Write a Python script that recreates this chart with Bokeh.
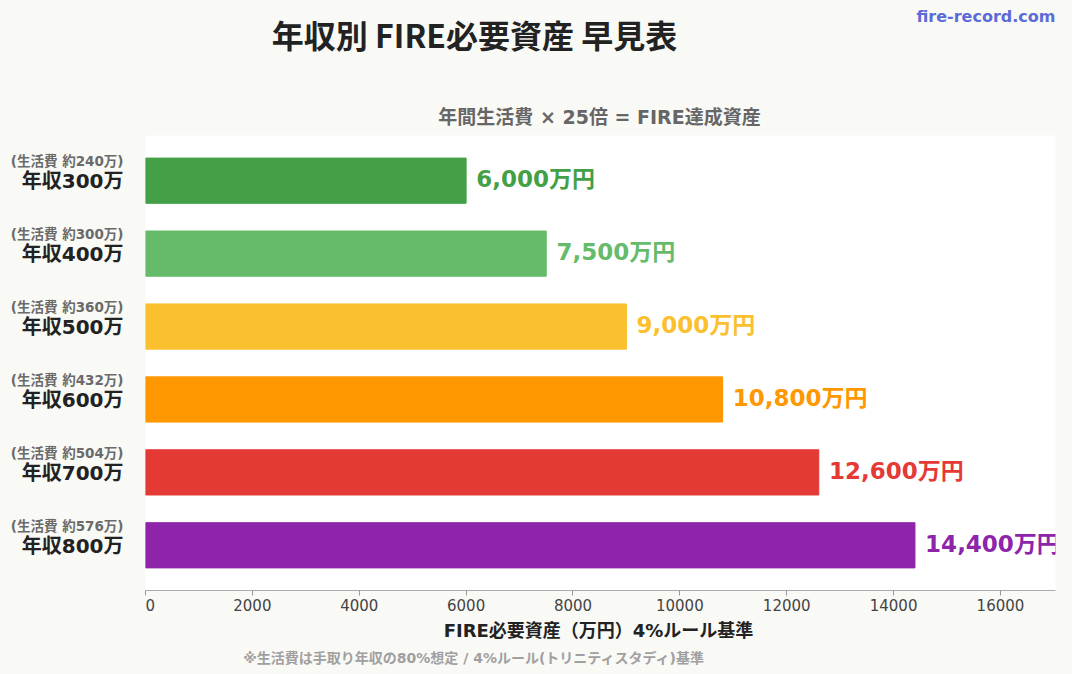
from bokeh.plotting import figure
from bokeh.models import ColumnDataSource, Range1d, FixedTicker
from bokeh.layouts import column, row
from bokeh.core.properties import value
from bokeh.embed import file_html
from bokeh.resources import INLINE

incomes = ["年収300万", "年収400万", "年収500万", "年収600万", "年収700万", "年収800万"]
living = [240, 300, 360, 432, 504, 576]
assets = [6000, 7500, 9000, 10800, 12600, 14400]
colors = ["#43a047", "#66bb6a", "#fbc02d", "#ff9800", "#e53935", "#8e24aa"]
x_ticks = [0, 2000, 4000, 6000, 8000, 10000, 12000, 14000, 16000]

JP = "Noto Sans CJK JP"
MIX = "DejaVu Sans, Noto Sans CJK JP"
BG = "#f9f9f6"

W, H = 1072, 674
TOP, LEFT, AXH = 135, 145, 26
FRAME_H = 455


def blank(width, height, xr, yr):
    f = figure(width=width, height=height, output_backend="svg", toolbar_location=None,
               x_range=xr, y_range=yr, min_border=0)
    f.axis.visible = False
    f.grid.visible = False
    f.outline_line_color = None
    f.background_fill_color = BG
    f.border_fill_color = BG
    return f


rows = list(range(len(incomes)))
yr = Range1d(5.62, -0.62)

# header
head = blank(W, TOP, Range1d(0, W), Range1d(TOP, 0))
head.text(x=[474], y=[33], text=["年収別 FIRE必要資産 早見表"], text_align="center",
          text_baseline="middle", text_font=value(JP), text_font_style="bold",
          text_font_size="32px", text_color="#222222")
head.text(x=[1055], y=[16], text=["fire-record.com"], text_align="right",
          text_baseline="middle", text_font=value("DejaVu Sans"), text_font_style="bold",
          text_font_size="16px", text_color="#5b6bd8")
head.text(x=[599], y=[116], text=["年間生活費 × 25倍 = FIRE達成資産"], text_align="center",
          text_baseline="middle", text_font=value(MIX), text_font_style="bold",
          text_font_size="19px", text_color="#666666")

# left labels
left = blank(LEFT, FRAME_H + AXH, Range1d(0, LEFT), yr)
left.min_border_bottom = AXH
lsrc = ColumnDataSource(dict(
    x=[123] * len(rows),
    y_sub=[r - 0.27 for r in rows],
    y_main=[r + 0.01 for r in rows],
    sub=[f"(生活費 約{v}万)" for v in living],
    main=incomes,
))
left.text(x="x", y="y_sub", text="sub", source=lsrc, text_align="right", text_baseline="middle",
          text_font=value(MIX), text_font_style="bold", text_font_size="13.5px", text_color="#6a6a6a")
left.text(x="x", y="y_main", text="main", source=lsrc, text_align="right", text_baseline="middle",
          text_font=value(MIX), text_font_style="bold", text_font_size="20px", text_color="#222222")

# main chart
src = ColumnDataSource(dict(
    y=[r - 0.02 for r in rows],
    yb=rows,
    right=assets,
    color=colors,
    lab=[f"{v:,}万円" for v in assets],
    lx=[v + 190 for v in assets],
))
p = figure(width=W - LEFT, height=FRAME_H + AXH, output_backend="svg", toolbar_location=None,
           x_range=Range1d(0, 17030), y_range=yr,
           min_border_left=0, min_border_right=17, min_border_top=0, min_border_bottom=AXH)
p.background_fill_color = "white"
p.border_fill_color = BG
p.outline_line_color = None
p.xgrid.visible = False
p.ygrid.visible = False
p.yaxis.visible = False

p.hbar(y="yb", right="right", left=0, height=0.62, color="color", source=src)
p.text(x="lx", y="y", text="lab", text_color="color", text_font_size="23px",
       text_font=value(MIX), text_font_style="bold", text_baseline="middle",
       text_align="left", source=src)

p.xaxis.ticker = FixedTicker(ticks=x_ticks)
p.xaxis.minor_tick_line_color = None
p.xaxis.major_tick_in = 0
p.xaxis.major_tick_out = 5
p.xaxis.major_tick_line_color = "#999999"
p.xaxis.axis_line_color = "#aaaaaa"
p.xaxis.major_label_text_font = "DejaVu Sans"
p.xaxis.major_label_text_font_style = "normal"
p.xaxis.major_label_text_font_size = "15px"
p.xaxis.major_label_text_color = "#444444"
p.xaxis.major_label_standoff = 3

# footer
FOOT_H = H - TOP - FRAME_H - AXH
foot = blank(W, FOOT_H, Range1d(0, W), Range1d(FOOT_H, 0))
off = TOP + FRAME_H + AXH
foot.text(x=[598], y=[630 - off], text=["FIRE必要資産（万円）4%ルール基準"], text_align="center",
          text_baseline="middle", text_font=value(MIX), text_font_style="bold",
          text_font_size="18px", text_color="#222222")
foot.text(x=[474], y=[657 - off], text=["※生活費は手取り年収の80%想定 / 4%ルール(トリニティスタディ)基準"],
          text_align="center", text_baseline="middle", text_font=value(MIX), text_font_style="bold",
          text_font_size="14px", text_color="#a0a0a0")

layout = column(head, row(left, p, spacing=0), foot, spacing=0)
layout.styles = {"background-color": BG}
open("out.html", "w").write(file_html(layout, INLINE))
